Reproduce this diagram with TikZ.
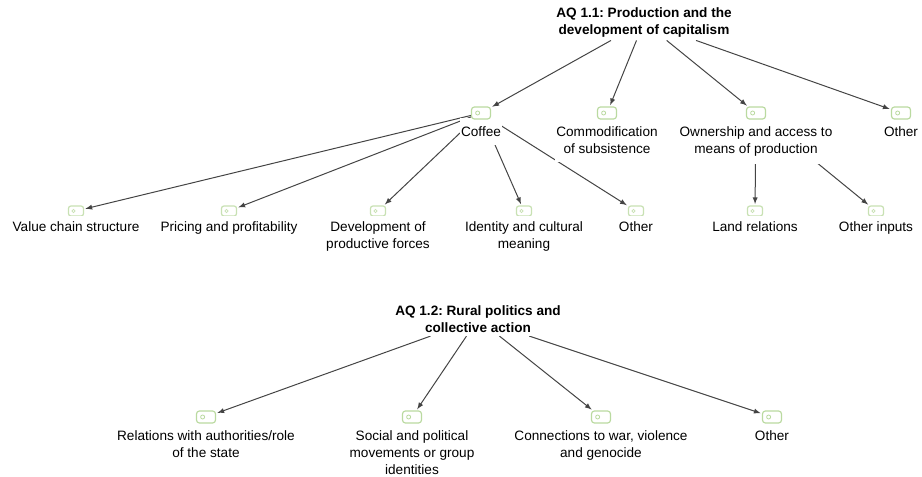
\documentclass[tikz,border=0pt]{standalone}
\usepackage{fontspec}
\setmainfont{Liberation Sans}
\usetikzlibrary{backgrounds}
\frenchspacing

\definecolor{codegreen}{RGB}{186,218,160}
\definecolor{linkgray}{RGB}{68,68,68}

\tikzset{
	code/.style={draw=codegreen, fill=white, line width=0.9pt, rounded corners=2.2pt,
		minimum width=14.25pt, minimum height=9pt, inner sep=0pt,
		path picture={\draw[codegreen, line width=0.6pt] ([xshift=4.6pt]path picture bounding box.west) circle (1.5pt);}},
	smallcode/.style={code, draw=codegreen!80, minimum width=11.25pt, minimum height=7.5pt, rounded corners=1.8pt,
		path picture={\draw[codegreen!80, line width=0.5pt] ([xshift=3.7pt]path picture bounding box.west) circle (1.2pt);}},
	txt/.style={font=\fontsize{10.2pt}{12.75pt}\selectfont, align=center, fill=white, inner xsep=1pt, inner ysep=4.5pt, anchor=north},
	aq/.style={txt, anchor=center, inner ysep=2.5pt, font=\fontsize{10.2pt}{12.75pt}\selectfont\bfseries},
	link/.style={-latex, draw=linkgray, line width=0.75pt, shorten >=1pt}
}

\begin{document}
\begin{tikzpicture}[x=0.75pt, y=-0.75pt]
	\useasboundingbox (0,0) rectangle (922,477);

	\node[aq] (aq1) at (644,22) {AQ 1.1: Production and the\\development of capitalism};
	\node[aq] (aq2) at (478,319) {AQ 1.2: Rural politics and\\collective action};

	% text first, so that the code icon sits on top of its white box
	\foreach \n/\x/\t in {1/481/Coffee, 2/607/Commodification\\of subsistence, 3/756/Ownership and access to\\means of production, 4/901/Other}
	{
		\node[txt, inner ysep=6.2pt] (ta\n) at (\x,118) {\t};
		\node[code] (a\n) at (\x,113) {};
	}

	\foreach \n/\x/\t in {1/76/Value chain structure, 2/229/Pricing and profitability, 3/378/Development of\\productive forces, 4/524/Identity and cultural\\meaning, 5/636/Other, 6/755/Land relations, 7/876/Other inputs}
	{
		\node[smallcode] (b\n) at (\x,211) {};
		\node[txt] (tb\n) at (\x,215.3) {\t};
	}

	\foreach \n/\x/\t in {1/206/Relations with authorities\slash role\\of the state, 2/412/Social and political\\movements or group\\identities, {3/601/Connections to war, violence\\and genocide}, 4/772/Other}
	{
		\node[code] (d\n) at (\x,417) {};
		\node[txt] (td\n) at (\x,424.3) {\t};
	}

	\begin{scope}[on background layer]
		\foreach \n in {1,...,4}
		{
			\draw[link] (aq1) -- (a\n);
			\draw[link] (aq2) -- (d\n);
		}
		\foreach \n in {1,...,5}
		{
			\draw[link] (a1.center) -- (b\n);
		}
		\foreach \n in {6,7}
		{
			\draw[link] (a3.center) -- (b\n);
		}
	\end{scope}

\end{tikzpicture}
\end{document}
